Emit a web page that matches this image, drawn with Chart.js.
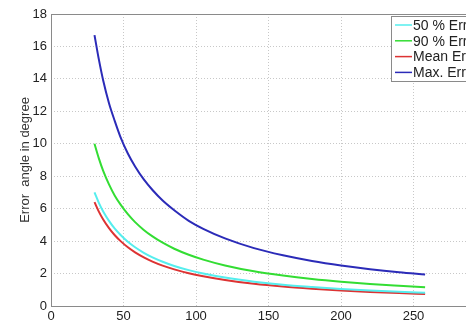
<!DOCTYPE html>
<html>
<head>
<meta charset="utf-8">
<script src="https://cdn.jsdelivr.net/npm/chart.js@4"></script>
<style>
  html, body { margin: 0; padding: 0; background: #fff; overflow: hidden; }
  #wrap { position: relative; width: 500px; height: 322px; }
</style>
</head>
<body>
<div id="wrap"><canvas id="errChart"></canvas></div>
<script>
// values
const distances = [30, 33, 36, 40, 44, 48, 53, 58, 64, 70, 77, 85, 95, 105, 120, 140, 160, 180, 200, 220, 240, 258];
const err50   = [7.0, 6.36, 5.83, 5.25, 4.77, 4.38, 3.96, 3.62, 3.28, 3.0, 2.73, 2.47, 2.21, 2.0, 1.75, 1.5, 1.31, 1.17, 1.05, 0.95, 0.88, 0.81];
const err90   = [10.0, 9.1, 8.33, 7.5, 6.8, 6.25, 5.66, 5.17, 4.69, 4.29, 3.9, 3.53, 3.16, 2.86, 2.5, 2.14, 1.88, 1.67, 1.5, 1.36, 1.25, 1.16];
const errMean = [6.4, 5.82, 5.33, 4.8, 4.36, 4.0, 3.62, 3.31, 3.0, 2.74, 2.49, 2.26, 2.02, 1.83, 1.6, 1.37, 1.2, 1.07, 0.96, 0.87, 0.8, 0.74];
const errMax  = [16.7, 15.2, 13.9, 12.5, 11.4, 10.4, 9.4, 8.6, 7.8, 7.15, 6.5, 5.9, 5.25, 4.76, 4.17, 3.57, 3.13, 2.78, 2.5, 2.27, 2.08, 1.94];
const seriesLabels = ['50 % Error', '90 % Error', 'Mean Error', 'Max. Error'];
const seriesColors = ['#55eeee', '#33dd33', '#dd3333', '#2b2bb8'];

const FONT = '"Liberation Sans", Arial, sans-serif';

function toPoints(vals) {
    return distances.map((x, i) => ({ x: x, y: vals[i] }));
}

// axes box + legend drawn on top, matlab style
const boxAndLegend = {
    id: 'boxAndLegend',
    afterDraw(chart) {
        const ctx = chart.ctx;
        const a = chart.chartArea;
        ctx.save();
        ctx.strokeStyle = '#8a8a8a';
        ctx.lineWidth = 1;
        ctx.strokeRect(Math.round(a.left) + 0.5, Math.round(a.top) + 0.5,
            Math.round(a.right - a.left), Math.round(a.bottom - a.top));

        // legend box
        const lx = 391, ly = 16;
        ctx.fillStyle = '#fff';
        ctx.fillRect(lx + 0.5, ly + 0.5, 200, 65);
        ctx.strokeStyle = '#8a8a8a';
        ctx.strokeRect(lx + 0.5, ly + 0.5, 200, 65);
        ctx.font = '14px ' + FONT;
        ctx.textBaseline = 'middle';
        chart.data.datasets.forEach((ds, i) => {
            const y = ly + 9 + i * 15.8;
            ctx.strokeStyle = ds.borderColor;
            ctx.lineWidth = 1.5;
            ctx.beginPath();
            ctx.moveTo(lx + 4, y);
            ctx.lineTo(lx + 21, y);
            ctx.stroke();
            ctx.fillStyle = '#222';
            ctx.fillText(ds.label, lx + 22, y + 1);
        });
        ctx.restore();
    }
};

new Chart(document.getElementById('errChart'), {
    type: 'line',
    data: {
        datasets: [
            { label: seriesLabels[0], data: toPoints(err50), borderColor: seriesColors[0] },
            { label: seriesLabels[1], data: toPoints(err90), borderColor: seriesColors[1] },
            { label: seriesLabels[2], data: toPoints(errMean), borderColor: seriesColors[2] },
            { label: seriesLabels[3], data: toPoints(errMax), borderColor: seriesColors[3] }
        ]
    },
    options: {
        responsive: true,
        maintainAspectRatio: false,
        animation: false,
        layout: { padding: { top: 14, right: 14, left: 18, bottom: 0 } },
        elements: {
            point: { radius: 0 },
            line: { borderWidth: 2, cubicInterpolationMode: 'monotone', fill: false }
        },
        plugins: {
            legend: { display: false },
            tooltip: { enabled: false }
        },
        scales: {
            x: {
                type: 'linear',
                min: 0,
                max: 300,
                afterFit: s => { s.height = 16; },
                border: { display: false, dash: [1, 2] },
                grid: { color: '#c8c8c8', drawTicks: false },
                ticks: { stepSize: 50, padding: 3, color: '#222', font: { family: FONT, size: 13 } }
            },
            y: {
                min: 0,
                max: 18,
                afterFit: s => { s.width = 33; },
                border: { display: false, dash: [1, 2] },
                grid: { color: '#c8c8c8', drawTicks: false },
                ticks: { stepSize: 2, padding: 4, color: '#222', font: { family: FONT, size: 13 } },
                title: {
                    display: true,
                    text: 'Error  angle in degree',
                    color: '#333',
                    padding: 0,
                    font: { family: FONT, size: 13 }
                }
            }
        }
    },
    plugins: [boxAndLegend]
});
</script>
</body>
</html>
